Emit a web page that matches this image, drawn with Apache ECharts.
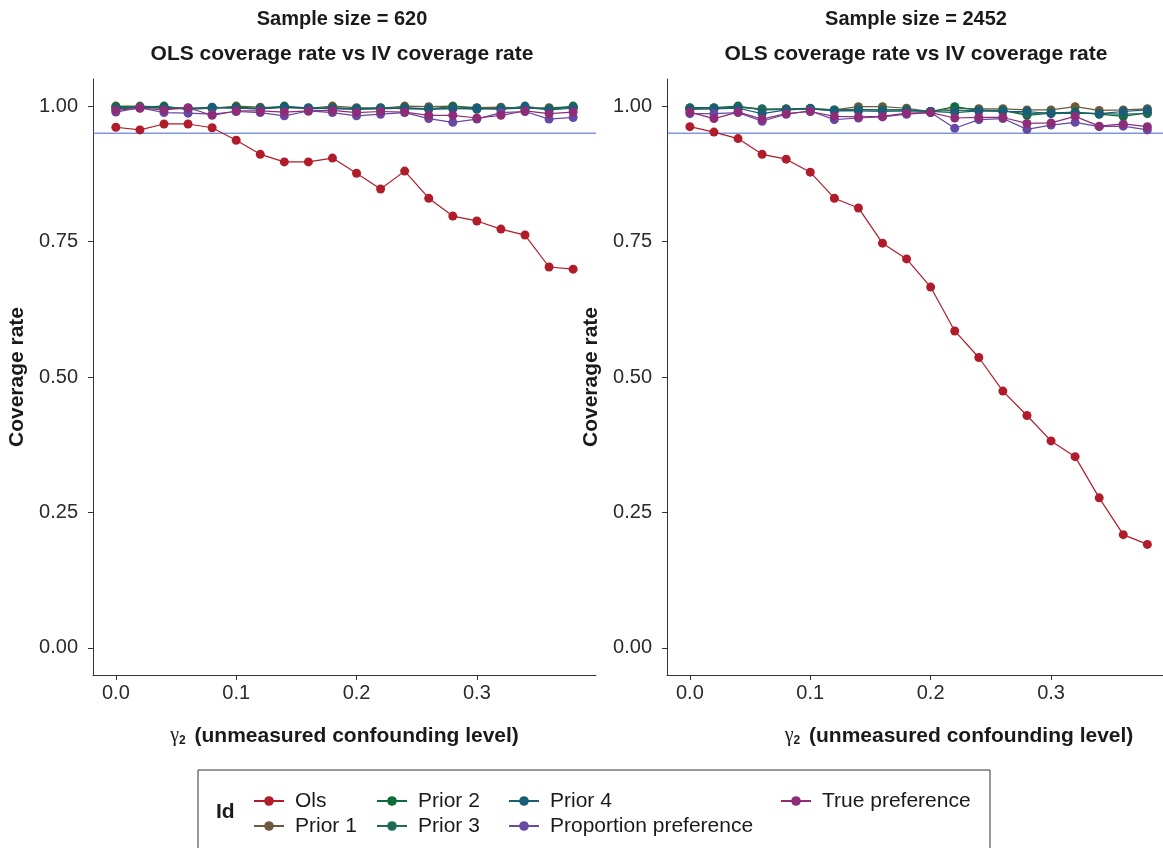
<!DOCTYPE html>
<html>
<head>
<meta charset="utf-8">
<script src="https://cdn.jsdelivr.net/npm/echarts@6/dist/echarts.min.js"></script>
<style>
  html, body { margin: 0; padding: 0; background: #fff; }
  #chart { width: 1163px; height: 848px; }
</style>
</head>
<body>
<div id="chart"></div>
<script>
// gamma_2 levels on the x axis
const gammaValues = [0, 0.02, 0.04, 0.06, 0.08, 0.1, 0.12, 0.14, 0.16, 0.18,
  0.2, 0.22, 0.24, 0.26, 0.28, 0.3, 0.32, 0.34, 0.36, 0.38]

const seriesNames = ['Ols', 'Prior 1', 'Prior 2', 'Prior 3', 'Prior 4', 'Proportion preference', 'True preference']
const seriesColors = ['#b01c2a', '#6b5a3c', '#0b6b3a', '#1e6a56', '#1b5c78', '#6649a3', '#8e2c77']

const xTicks = [0, 0.1, 0.2, 0.3]
const yTicks = [0, 0.25, 0.5, 0.75, 1]
const nominalLevel = 0.95

const panelTitles = ['Sample size = 620', 'Sample size = 2452']
const subTitle = 'OLS coverage rate vs IV coverage rate'

// sample size 620
const ols620 = [0.961, 0.956, 0.967, 0.967, 0.960, 0.937, 0.911, 0.897, 0.897, 0.904,
  0.876, 0.847, 0.880, 0.830, 0.797, 0.788, 0.773, 0.762, 0.703, 0.699]
const prior1_620 = [1.000, 1.000, 0.998, 0.996, 0.996, 1.000, 0.998, 0.997, 0.996, 1.000,
  0.997, 0.996, 1.000, 0.999, 1.000, 0.997, 0.998, 0.996, 0.997, 0.998]
const prior2_620 = [0.999, 0.998, 1.000, 0.994, 0.996, 0.998, 0.996, 1.000, 0.996, 0.997,
  0.995, 0.996, 0.997, 0.995, 0.999, 0.996, 0.995, 0.996, 0.995, 1.000]
const prior3_620 = [0.997, 0.998, 0.997, 0.996, 0.997, 0.996, 0.995, 0.998, 0.995, 0.996,
  0.994, 0.995, 0.996, 0.994, 0.996, 0.994, 0.996, 0.997, 0.994, 0.998]
const prior4_620 = [0.995, 0.997, 0.996, 0.995, 0.998, 0.996, 0.995, 0.998, 0.997, 0.995,
  0.995, 0.997, 0.995, 0.995, 0.995, 0.996, 0.994, 1.000, 0.993, 0.996]
const propPref620 = [0.989, 0.997, 0.988, 0.987, 0.985, 0.990, 0.988, 0.982, 0.991, 0.988,
  0.982, 0.985, 0.988, 0.977, 0.970, 0.976, 0.988, 0.990, 0.976, 0.979]
const truePref620 = [0.992, 0.996, 0.993, 0.997, 0.983, 0.991, 0.991, 0.989, 0.991, 0.992,
  0.988, 0.990, 0.989, 0.983, 0.983, 0.978, 0.983, 0.991, 0.986, 0.989]

// sample size 2452
const ols2452 = [0.962, 0.952, 0.940, 0.911, 0.902, 0.878, 0.830, 0.812, 0.747, 0.718,
  0.666, 0.585, 0.536, 0.474, 0.429, 0.382, 0.353, 0.277, 0.209, 0.191]
const prior1_2452 = [0.996, 0.996, 0.998, 0.994, 0.995, 0.996, 0.993, 0.999, 0.999, 0.996,
  0.990, 0.996, 0.995, 0.995, 0.993, 0.993, 0.999, 0.992, 0.993, 0.995]
const prior2_2452 = [0.997, 0.997, 1.000, 0.993, 0.994, 0.995, 0.992, 0.993, 0.993, 0.993,
  0.990, 0.999, 0.992, 0.992, 0.983, 0.987, 0.989, 0.985, 0.981, 0.988]
const prior3_2452 = [0.996, 0.996, 0.998, 0.995, 0.994, 0.995, 0.993, 0.994, 0.993, 0.993,
  0.990, 0.992, 0.992, 0.991, 0.986, 0.988, 0.987, 0.986, 0.985, 0.986]
const prior4_2452 = [0.994, 0.995, 0.996, 0.986, 0.993, 0.995, 0.991, 0.991, 0.990, 0.991,
  0.990, 0.988, 0.991, 0.990, 0.990, 0.986, 0.987, 0.986, 0.990, 0.993]
const propPref2452 = [0.986, 0.986, 0.988, 0.972, 0.985, 0.991, 0.975, 0.978, 0.980, 0.985,
  0.988, 0.959, 0.975, 0.977, 0.957, 0.965, 0.970, 0.962, 0.963, 0.956]
const truePref2452 = [0.989, 0.977, 0.989, 0.976, 0.986, 0.990, 0.981, 0.980, 0.981, 0.987,
  0.988, 0.978, 0.979, 0.979, 0.968, 0.969, 0.981, 0.963, 0.967, 0.962]

const panelData = [
  [ols620, prior1_620, prior2_620, prior3_620, prior4_620, propPref620, truePref620],
  [ols2452, prior1_2452, prior2_2452, prior3_2452, prior4_2452, propPref2452, truePref2452],
]

const legendColumns = [
  ['Ols', 'Prior 1'],
  ['Prior 2', 'Prior 3'],
  ['Prior 4', 'Proportion preference'],
  ['True preference'],
]

const FONT = '"Liberation Sans", Arial, Helvetica, sans-serif'
const AXIS_COLOR = '#333'
const TEXT_COLOR = '#1a1a1a'
const LINE_BLUE = '#3f63d8'

const grids = [
  { left: 93, right: 567, top: 79, bottom: 173 },
  { left: 667, right: 0, top: 79, bottom: 173 },
]
const xMin = -0.019
const xMax = [0.399, 0.393]
const titleCenters = [337, 911]
const xNamePad = [[0, 0, 0, 0], [0, 0, 0, 88]]

function makeXAxis(i) {
  return {
    type: 'value',
    gridIndex: i,
    min: xMin,
    max: xMax[i],
    name: '{g|γ}{s|2} (unmeasured confounding level)',
    nameLocation: 'middle',
    nameGap: 50,
    nameTextStyle: {
      fontFamily: FONT, fontSize: 21, fontWeight: 'bold', color: TEXT_COLOR,
      padding: xNamePad[i],
      rich: {
        g: { fontFamily: '"Liberation Serif", serif', fontSize: 20, fontWeight: 'normal', color: TEXT_COLOR },
        s: { fontFamily: FONT, fontSize: 12, fontWeight: 'bold', color: TEXT_COLOR, verticalAlign: 'bottom', padding: [10, 3, 0, 0] },
      },
    },
    splitLine: { show: false },
    axisLine: { show: true, onZero: false, lineStyle: { color: AXIS_COLOR, width: 1 } },
    axisTick: { show: true, length: 5, customValues: xTicks, lineStyle: { color: AXIS_COLOR } },
    axisLabel: {
      customValues: xTicks, margin: 8, fontFamily: FONT, fontSize: 20, color: '#2b2b2b',
      formatter: (v) => v.toFixed(1),
    },
  }
}

function makeYAxis(i) {
  return {
    type: 'value',
    gridIndex: i,
    min: -0.05,
    max: 1.05,
    name: 'Coverage rate',
    nameLocation: 'middle',
    nameGap: 65,
    nameTextStyle: { fontFamily: FONT, fontSize: 21, fontWeight: 'bold', color: TEXT_COLOR },
    splitLine: { show: false },
    axisLine: { show: true, onZero: false, lineStyle: { color: AXIS_COLOR, width: 1 } },
    axisTick: { show: true, length: 5, customValues: yTicks, lineStyle: { color: AXIS_COLOR } },
    axisLabel: {
      customValues: yTicks, margin: 15, fontFamily: FONT, fontSize: 20, color: '#2b2b2b',
      formatter: (v) => v.toFixed(2),
    },
  }
}

function makeSeries(panel) {
  const list = seriesNames.map((name, k) => ({
    name,
    type: 'line',
    xAxisIndex: panel,
    yAxisIndex: panel,
    data: gammaValues.map((g, j) => [g, panelData[panel][k][j]]),
    symbol: 'circle',
    symbolSize: 9,
    showSymbol: true,
    lineStyle: { color: seriesColors[k], width: 1.2 },
    itemStyle: { color: seriesColors[k] },
    emphasis: { disabled: true },
  }))
  // 95% reference line across the whole panel
  list.unshift({
    name: 'nominal',
    type: 'line',
    xAxisIndex: panel,
    yAxisIndex: panel,
    data: [[xMin, nominalLevel], [xMax[panel], nominalLevel]],
    symbol: 'none',
    silent: true,
    lineStyle: { color: LINE_BLUE, width: 1 },
    itemStyle: { color: LINE_BLUE },
    emphasis: { disabled: true },
  })
  return list
}

const legendLefts = [253, 376, 508, 780]

const chart = echarts.init(document.getElementById('chart'))
chart.setOption({
  animation: false,
  backgroundColor: '#fff',
  textStyle: { fontFamily: FONT },
  title: [0, 1].flatMap((i) => [
    {
      text: panelTitles[i], left: titleCenters[i], top: 4, textAlign: 'center',
      textStyle: { fontFamily: FONT, fontSize: 20, fontWeight: 'bold', color: TEXT_COLOR },
    },
    {
      text: subTitle, left: titleCenters[i], top: 39, textAlign: 'center',
      textStyle: { fontFamily: FONT, fontSize: 21, fontWeight: 'bold', color: TEXT_COLOR },
    },
  ]),
  grid: grids,
  xAxis: [makeXAxis(0), makeXAxis(1)],
  yAxis: [makeYAxis(0), makeYAxis(1)],
  legend: legendColumns.map((col, c) => ({
    data: col,
    orient: 'vertical',
    left: legendLefts[c],
    top: 790,
    padding: 0,
    itemWidth: 30,
    itemHeight: 12,
    itemGap: 3,
    selectedMode: false,
    textStyle: { fontFamily: FONT, fontSize: 21, color: TEXT_COLOR, lineHeight: 22, padding: [0, 0, 0, 6] },
  })),
  graphic: [
    {
      type: 'rect',
      shape: { x: 198, y: 770, width: 792, height: 100 },
      style: { fill: 'none', stroke: '#333', lineWidth: 1 },
      silent: true,
    },
    {
      type: 'text',
      x: 216, y: 812,
      style: {
        text: 'Id', fontFamily: FONT, fontSize: 21, fontWeight: 'bold', fill: TEXT_COLOR,
        verticalAlign: 'middle',
      },
      silent: true,
    },
  ],
  series: [...makeSeries(0), ...makeSeries(1)],
})
</script>
</body>
</html>
